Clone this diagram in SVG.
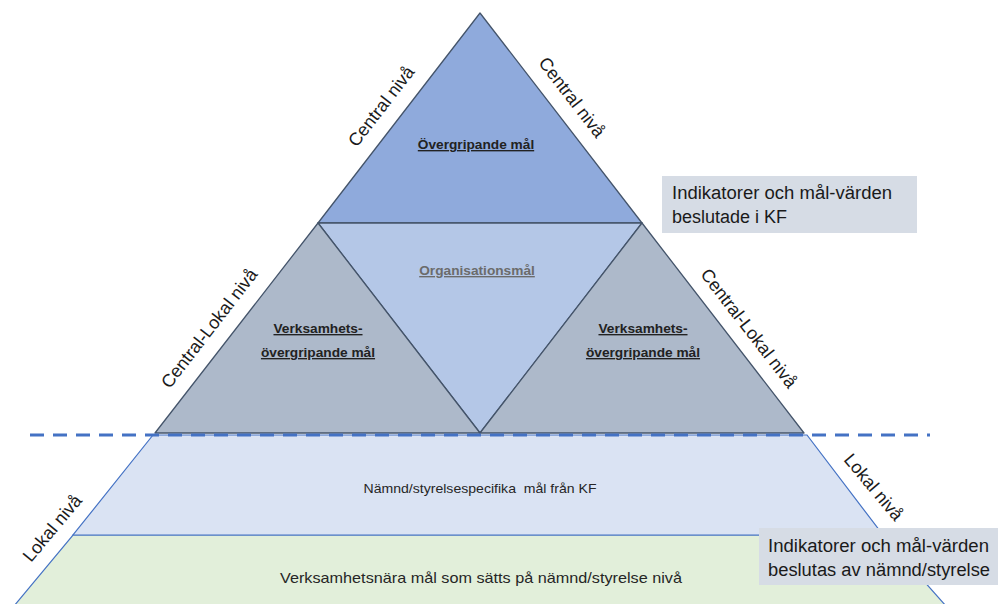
<svg xmlns="http://www.w3.org/2000/svg" width="998" height="604" viewBox="0 0 998 604">
<style>
.tri{stroke:#44546A;stroke-width:1.3;stroke-linejoin:round}
.trap{stroke:#4472C4;stroke-width:1.2}
.lbl{font-family:"Liberation Sans",Arial,sans-serif;font-size:18px;fill:#1a1a1a;text-anchor:middle}
.nb{font-family:"Liberation Sans",Arial,sans-serif;font-size:13.7px;font-weight:bold;fill:#222;text-anchor:middle;text-decoration:underline}
.nr{font-family:"Liberation Sans",Arial,sans-serif;fill:#262626;text-anchor:middle}
.box{fill:#D6DCE5}
.bt{font-family:"Liberation Sans",Arial,sans-serif;font-size:18px;fill:#1a1a1a}
</style>
<rect width="998" height="604" fill="#ffffff"/>
<g id="level-verksamhetsnara">
<polygon class="trap" points="73,535 883,535 946,606 14,606" fill="#E2EFDA"/>
<text class="nr" x="481" y="583" font-size="15" textLength="402" lengthAdjust="spacingAndGlyphs">Verksamhetsnära mål som sätts på nämnd/styrelse nivå</text>
</g>
<g id="level-namnd">
<polygon class="trap" points="153,435 807,435 883,535 73,535" fill="#DAE3F3"/>
<text class="nr" x="480" y="493" font-size="13" textLength="233" lengthAdjust="spacingAndGlyphs" xml:space="preserve">Nämnd/styrelsespecifika  mål från KF</text>
</g>
<g id="overgripande">
<polygon class="tri" points="480,13 642,223 318,223" fill="#8FAADC"/>
<text class="nb" x="476" y="149">Övergripande mål</text>
</g>
<g id="organisationsmal">
<polygon class="tri" points="318,223 642,223 480,433" fill="#B4C7E7"/>
<text class="nb" x="477" y="275" font-size="12.7" style="fill:#6b6b6b">Organisationsmål</text>
</g>
<g id="verksamhet-left">
<polygon class="tri" points="318,223 480,433 155,433" fill="#ADB9CA"/>
<text class="nb" x="318" y="333">Verksamhets-</text>
<text class="nb" x="318" y="357">övergripande mål</text>
</g>
<g id="verksamhet-right">
<polygon class="tri" points="642,223 804,433 480,433" fill="#ADB9CA"/>
<text class="nb" x="643" y="333">Verksamhets-</text>
<text class="nb" x="643" y="357">övergripande mål</text>
</g>
<g id="connectors">
<line x1="30" y1="435" x2="930" y2="435" stroke="#4472C4" stroke-width="3" stroke-dasharray="14 9"/>
</g>
<g id="side-labels">
<text class="lbl" transform="translate(386,110) rotate(-52.3)">Central nivå</text>
<text class="lbl" transform="translate(567,101) rotate(52.3)">Central nivå</text>
<text class="lbl" transform="translate(214,332) rotate(-52.3)">Central-Lokal nivå</text>
<text class="lbl" transform="translate(744,332) rotate(52.3)">Central-Lokal nivå</text>
<text class="lbl" transform="translate(57,532) rotate(-50)">Lokal nivå</text>
<text class="lbl" transform="translate(869,491) rotate(50)">Lokal nivå</text>
</g>
<g id="box-kf">
<rect class="box" x="662" y="176" width="255" height="57"/>
<text class="bt" x="672" y="199" textLength="220" lengthAdjust="spacingAndGlyphs">Indikatorer och mål-värden</text>
<text class="bt" x="672" y="223">beslutade i KF</text>
</g>
<g id="box-namnd">
<rect class="box" x="759" y="528" width="239" height="57"/>
<text class="bt" x="768" y="552" textLength="221" lengthAdjust="spacingAndGlyphs">Indikatorer och mål-värden</text>
<text class="bt" x="768" y="576" textLength="222" lengthAdjust="spacingAndGlyphs">beslutas av nämnd/styrelse</text>
</g>
</svg>
